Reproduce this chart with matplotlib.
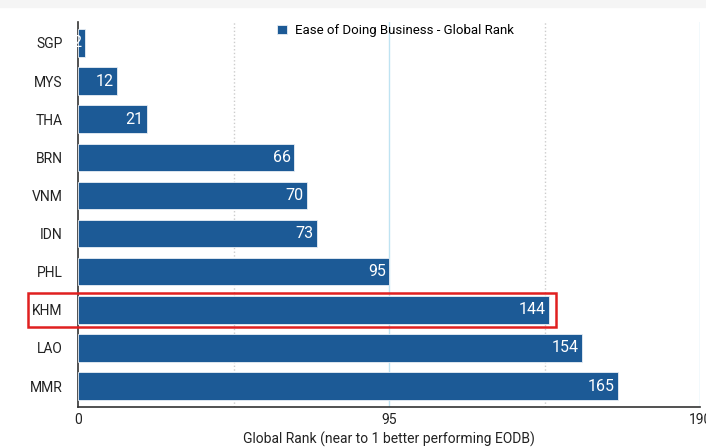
import matplotlib
matplotlib.use("Agg")
import matplotlib.pyplot as plt
from matplotlib.patches import Rectangle
from matplotlib import font_manager

countries = ["SGP", "MYS", "THA", "BRN", "VNM", "IDN", "PHL", "KHM", "LAO", "MMR"]
ranks = [2, 12, 21, 66, 70, 73, 95, 144, 154, 165]
xticks = [0, 95, 190]
series_name = "Ease of Doing Business - Global Rank"
xlabel = "Global Rank (near to 1 better performing EODB)"
highlight = "KHM"

avail = {f.name for f in font_manager.fontManager.ttflist}
fam = ["Liberation Sans Narrow", "DejaVu Sans"] if "Liberation Sans Narrow" in avail else ["Roboto", "DejaVu Sans"]
plt.rcParams["font.family"] = fam

bar_color = "#1c5a96"
txt_color = "#222222"

fig = plt.figure(figsize=(7.06, 4.47), dpi=100)
fig.patch.set_facecolor("white")
fig.patches.append(Rectangle((0, 0.985), 1, 0.015, transform=fig.transFigure, color="#f5f5f5", zorder=-10))

ax = fig.add_axes([78/706, 40/447, 622/706, 385/447])
y = list(range(len(countries)))
ax.barh(y, ranks, height=0.72, color=bar_color, edgecolor="#e8eef5", linewidth=0.6, zorder=3,
        label=series_name)
ax.set_xlim(0, 190)
ax.set_ylim(len(countries) - 0.45, -0.55)

for gx, style, col in [(47.5, ":", "#cccccc"), (95, "-", "#bfe3f2"), (142.5, ":", "#cccccc"), (190, "-", "#bfe3f2")]:
    ax.axvline(gx, linestyle=style, color=col, linewidth=1.0, zorder=1)

ax.set_xticks(xticks)
ax.set_xticklabels([str(t) for t in xticks], fontsize=10, color=txt_color)
ax.set_yticks(y)
ax.set_yticklabels(countries, fontsize=10, color=txt_color)
ax.tick_params(axis="both", length=0)
ax.tick_params(axis="y", pad=11)
ax.tick_params(axis="x", pad=4)
for s in ["top", "right"]:
    ax.spines[s].set_visible(False)
for s in ["left", "bottom"]:
    ax.spines[s].set_color("#333333")
    ax.spines[s].set_linewidth(1.2)

for yi, v in zip(y, ranks):
    ax.text(v - 1.0, yi, str(v), ha="right", va="center", color="white", fontsize=11.5, zorder=4)

ax.set_xlabel(xlabel, fontsize=10, color=txt_color, labelpad=4)

ax.legend(loc="upper center", bbox_to_anchor=(0.51, 1.025), frameon=False, fontsize=9.5,
          handlelength=0.75, handleheight=0.75, handletextpad=0.6)

ki = countries.index(highlight)
ax.add_patch(Rectangle((-15.3, ki - 0.45), 146.0 + 15.3, 0.9, fill=False, edgecolor="#e02020",
                       linewidth=1.8, clip_on=False, zorder=5))

fig.savefig("out.png", dpi=100)
